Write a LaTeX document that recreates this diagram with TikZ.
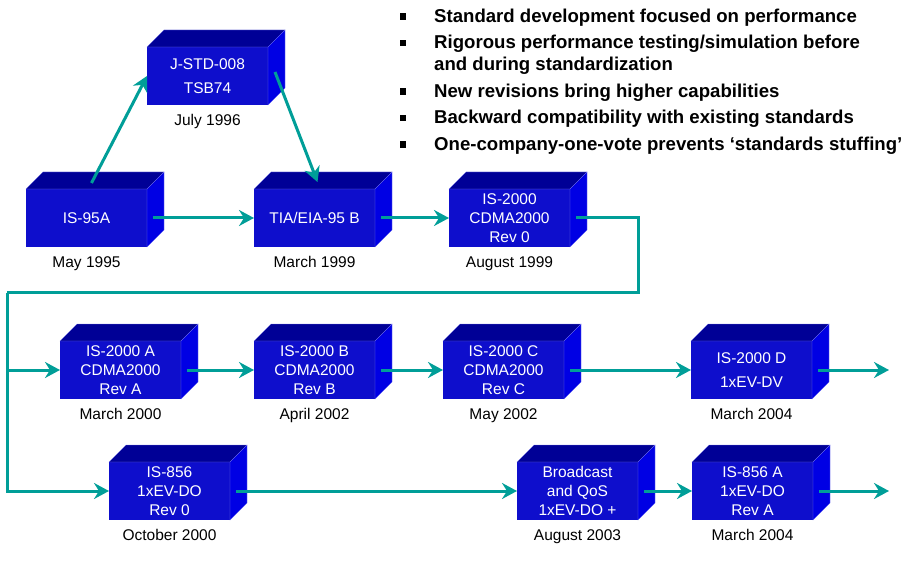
\documentclass[tikz,border=0pt]{standalone}
\usepackage{fontspec}
\setmainfont{Liberation Sans}
\usepackage{tikz}
\usetikzlibrary{arrows.meta,positioning}

\definecolor{boxfront}{RGB}{14,14,204}
\definecolor{boxtop}{RGB}{0,0,150}
\definecolor{boxside}{RGB}{0,0,228}
\definecolor{boxedge}{RGB}{120,120,240}
\definecolor{flowteal}{RGB}{0,158,152}

\newcommand{\sqbullet}{\rule[2.5pt]{6pt}{6.5pt}}

\tikzset{
	std/.style={fill=boxfront, text=white, minimum width=121pt, minimum height=58pt,
		inner sep=0pt, outer sep=0pt, align=center, font=\fontsize{15.5}{19}\selectfont},
	when/.style={inner sep=0pt, text height=11.5pt, text depth=3.5pt,
		font=\fontsize{15.5}{19}\selectfont},
	wire/.style={draw=flowteal, line width=3pt},
	flow/.style={wire, -{Stealth[length=15pt,width=16pt,inset=5pt]}},
	points/.style={inner sep=0pt, anchor=north west, font=\fontsize{18.6}{22}\selectfont\bfseries},
}

\begin{document}
\begin{tikzpicture}[x=1pt,y=1pt]
	\useasboundingbox (0,0) rectangle (904,560);

	% standards
	\node[std] (is95a) at (86.5,342) {IS-95A};
	\node[std] (jstd) at (207.5,484) {J-STD-008\\[5pt]TSB74};
	\node[std] (tia) at (314.5,342) {TIA/EIA-95 B};
	\node[std] (rev0) at (509.5,342) {IS-2000\\CDMA2000\\Rev 0};
	\node[std] (isA) at (120.5,190) {IS-2000 A\\CDMA2000\\Rev A};
	\node[std] (isB) at (314.5,190) {IS-2000 B\\CDMA2000\\Rev B};
	\node[std] (isC) at (503.5,190) {IS-2000 C\\CDMA2000\\Rev C};
	\node[std] (isD) at (751.5,190) {IS-2000 D\\[5pt]1xEV-DV};
	\node[std] (is856) at (169.5,69) {IS-856\\1xEV-DO\\Rev 0};
	\node[std] (bcast) at (577.5,69) {Broadcast\\and QoS\\1xEV-DO +};
	\node[std] (is856a) at (752.5,69) {IS-856 A\\1xEV-DO\\Rev A};

	% top and side faces
	\foreach \b in {is95a,jstd,tia,rev0,isA,isB,isC,isD,is856,bcast,is856a} {
		\filldraw[fill=boxtop, draw=boxedge, line width=0.3pt]
			(\b.north west) -- ++(17,17) -- ++(121,0) -- (\b.north east) -- cycle;
		\filldraw[fill=boxside, draw=boxedge, line width=0.3pt]
			(\b.north east) -- ++(17,17) -- ++(0,-58) -- (\b.south east) -- cycle;
	}

	% dates
	\node[when, below=9pt of is95a] (d95a) {May 1995};
	\node[when, below=9pt of jstd] (djstd) {July 1996};
	\node[when, below=9pt of tia] (dtia) {March 1999};
	\node[when, below=9pt of rev0] (drev0) {August 1999};
	\node[when, below=9pt of isA] (disA) {March 2000};
	\node[when, below=9pt of isB] (disB) {April 2002};
	\node[when, below=9pt of isC] (disC) {May 2002};
	\node[when, below=9pt of isD] (disD) {March 2004};
	\node[when, below=9pt of is856] (dis856) {October 2000};
	\node[when, below=9pt of bcast] (dbcast) {August 2003};
	\node[when, below=9pt of is856a] (dis856a) {March 2004};

	\coordinate (turnR) at (638,267);
	\coordinate (turnL) at (7,267);
	\coordinate (moreD) at (889,190);
	\coordinate (moreA) at (889,69);

	\draw [flow] ([shift={(5,6)}]is95a.north) to (jstd.west);
	\draw [flow] ([shift={(7,4)}]jstd.east) to ([shift={(3,7)}]tia.north);
	\draw [flow] ([xshift=6pt]is95a.east) to (tia.west);
	\draw [flow] ([xshift=6pt]tia.east) to (rev0.west);
	\draw [wire] ([xshift=6pt]rev0.east) -| (turnR) -- (turnL);
	\draw [flow] (turnL) |- (isA.west);
	\draw [flow] (turnL) |- (is856.west);
	\draw [flow] ([xshift=6pt]isA.east) to (isB.west);
	\draw [flow] ([xshift=6pt]isB.east) to (isC.west);
	\draw [flow] ([xshift=6pt]isC.east) to (isD.west);
	\draw [flow] ([xshift=6pt]isD.east) to (moreD);
	\draw [flow] ([xshift=6pt]is856.east) to (bcast.west);
	\draw [flow] ([xshift=6pt]bcast.east) to (is856a.west);
	\draw [flow] ([xshift=6pt]is856a.east) to (moreA);

	\node[points] (pts) at (400,553.4) {%
		\begin{tabular}{@{}l@{\hspace{28pt}}l@{}}
			\sqbullet & Standard development focused on performance\\[4.5pt]
			\sqbullet & Rigorous performance testing/simulation before\\
			          & and during standardization\\[4.5pt]
			\sqbullet & New revisions bring higher capabilities\\[4.5pt]
			\sqbullet & Backward compatibility with existing standards\\[4.5pt]
			\sqbullet & One-company-one-vote prevents ‘standards stuffing’
		\end{tabular}};
\end{tikzpicture}
\end{document}
